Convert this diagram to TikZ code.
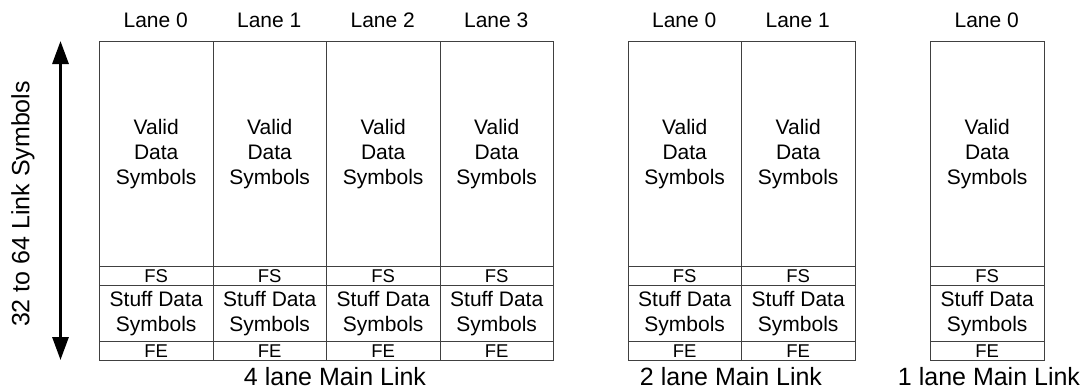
\documentclass[tikz,border=0pt]{standalone}
\usepackage{fontspec}
\setmainfont{Liberation Sans}
\usetikzlibrary{arrows.meta}
\begin{document}
\begin{tikzpicture}[x=1pt,y=-1pt,
  cell/.style={draw=black!75, line width=0.9pt, minimum width=113.5pt, inner sep=0pt, anchor=north west, align=center},
  valid/.style={cell, minimum height=225pt, font=\fontsize{21}{25}\selectfont},
  fsrow/.style={cell, minimum height=19pt, font=\fontsize{18.5}{18}\selectfont},
  stuff/.style={cell, minimum height=56pt, font=\fontsize{21}{25}\selectfont},
  ferow/.style={cell, minimum height=19pt, font=\fontsize{18.5}{18}\selectfont},
  lanelbl/.style={font=\fontsize{21}{25}\selectfont, anchor=center},
  grouplbl/.style={font=\fontsize{25}{30}\selectfont, anchor=center},
  span/.style={line width=3pt, {Triangle[width=16pt,length=23pt]}-{Triangle[width=16pt,length=23pt]}}
]
\useasboundingbox (0,0) rectangle (1084,391);

% lane columns: name / x / lane label
\foreach \nm/\x/\ln in {a0/99/0, a1/212.5/1, a2/326/2, a3/439.5/3, b0/627.5/0, b1/741/1, c0/930/0}{
  \node[valid] (\nm v) at (\x,41) {Valid\\Data\\Symbols};
  \node[fsrow] (\nm s) at (\x,266) {FS};
  \node[stuff] (\nm d) at (\x,285) {Stuff Data\\Symbols};
  \node[ferow] (\nm e) at (\x,341) {FE};
  \node[lanelbl] (\nm l) at (\x+56.75,20) {Lane \ln};
}

\node[grouplbl] (g4) at (335,377) {4 lane Main Link};
\node[grouplbl] (g2) at (731,377) {2 lane Main Link};
\node[grouplbl] (g1) at (989,377) {1 lane Main Link};

\coordinate (atop) at (60.5,41);
\coordinate (abot) at (60.5,360);
\draw[span] (atop) -- (abot);
\node[grouplbl, rotate=90] (rot) at (23,204) {32 to 64 Link Symbols};
\end{tikzpicture}
\end{document}
